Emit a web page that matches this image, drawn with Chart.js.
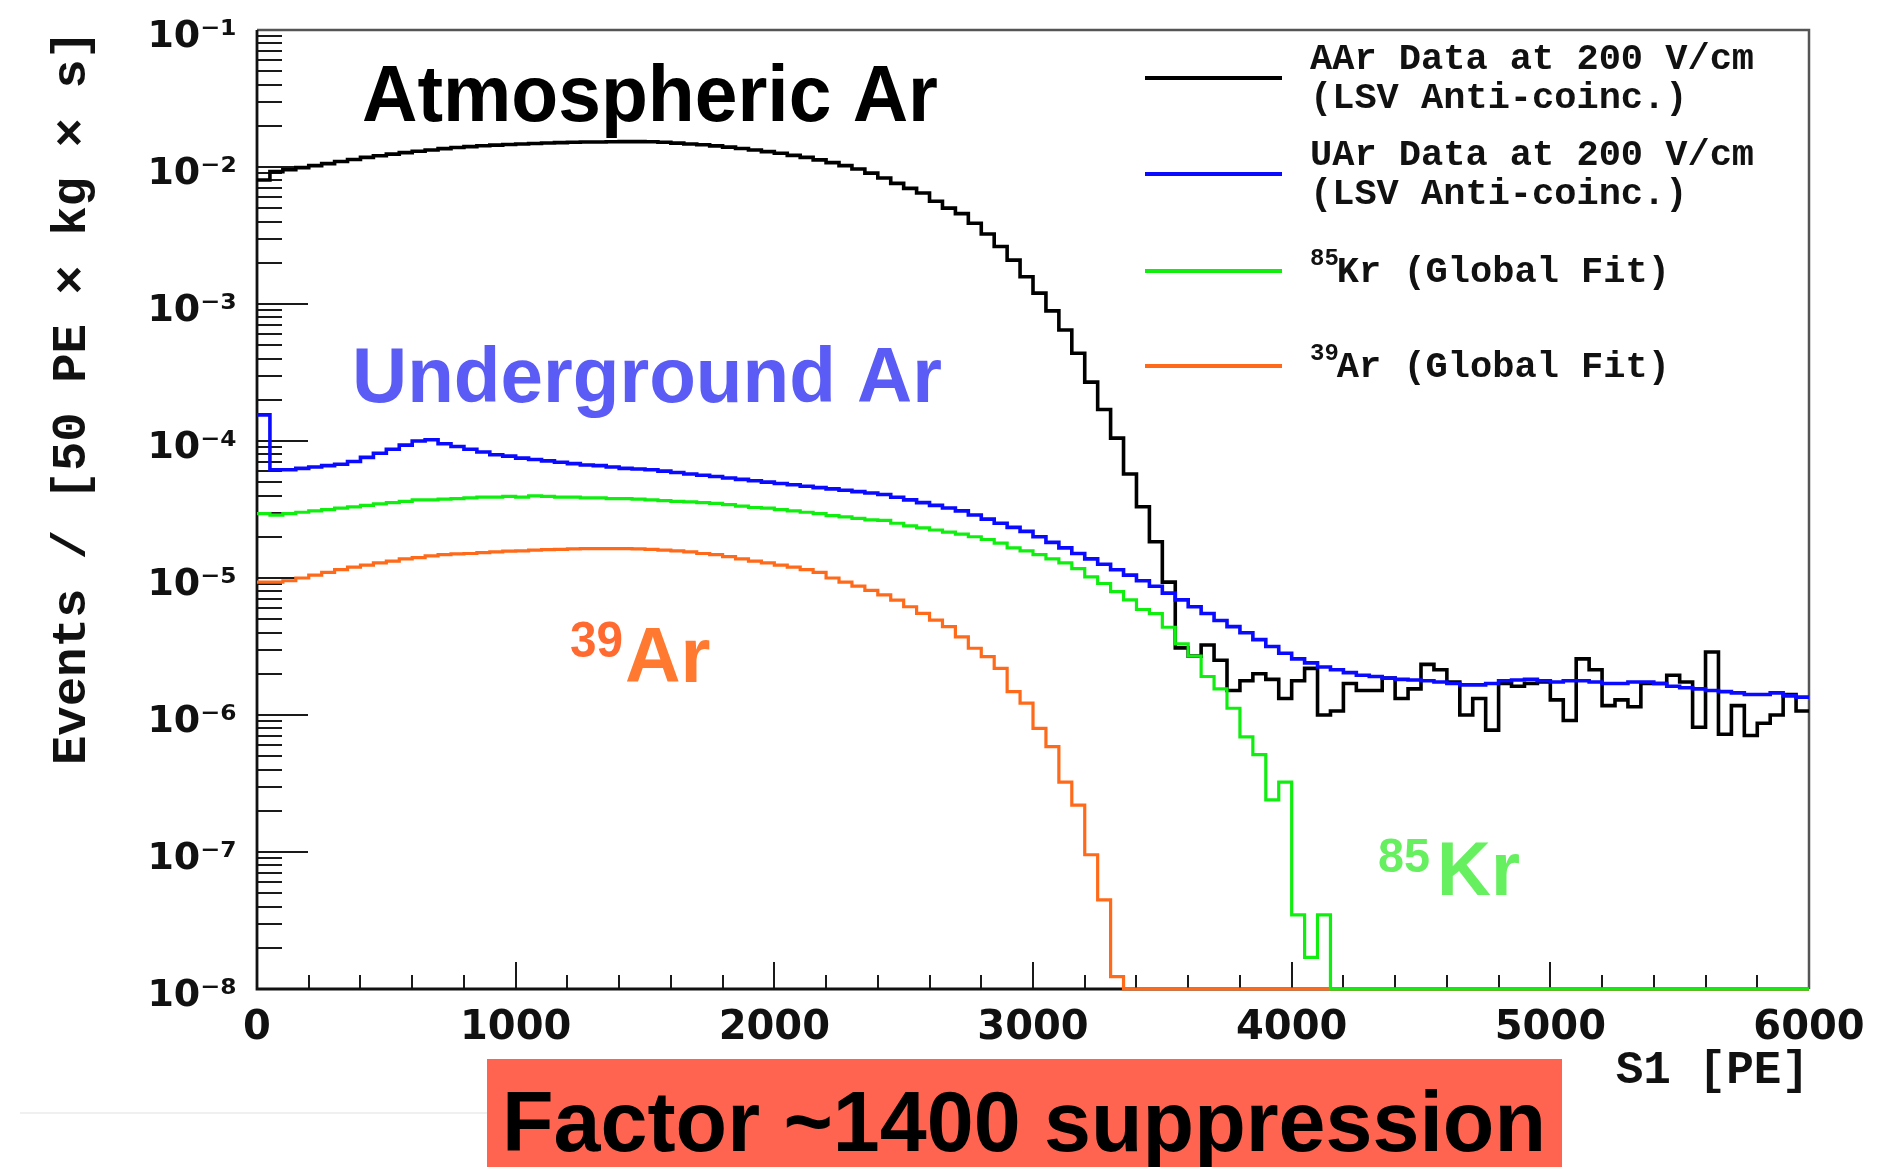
<!DOCTYPE html>
<html>
<head>
<meta charset="utf-8">
<script src="https://cdn.jsdelivr.net/npm/chart.js@4.4.1/dist/chart.umd.min.js"></script>
<style>
html,body{margin:0;padding:0;background:#fff;}
#wrap{width:1891px;height:1167px;position:relative;overflow:hidden;}
canvas{display:block;}
</style>
</head>
<body>
<div id="wrap"><canvas id="c" width="1891" height="1167"></canvas></div>
<script>
// ---------- DATA ----------
const binLowEdges = [0,50,100,150,200,250,300,350,400,450,500,550,600,650,700,750,800,850,900,950,
1000,1050,1100,1150,1200,1250,1300,1350,1400,1450,1500,1550,1600,1650,1700,1750,1800,1850,1900,1950,
2000,2050,2100,2150,2200,2250,2300,2350,2400,2450,2500,2550,2600,2650,2700,2750,2800,2850,2900,2950,
3000,3050,3100,3150,3200,3250,3300,3350,3400,3450,3500,3550,3600,3650,3700,3750,3800,3850,3900,3950,
4000,4050,4100,4150,4200,4250,4300,4350,4400,4450,4500,4550,4600,4650,4700,4750,4800,4850,4900,4950,
5000,5050,5100,5150,5200,5250,5300,5350,5400,5450,5500,5550,5600,5650,5700,5750,5800,5850,5900,5950];
const lastBinHighEdge = 6000;

// AAr data at 200 V/cm (LSV anti-coinc.)
const aarData = [8.04e-3,9.25e-3,9.55e-3,9.89e-3,1.023e-2,1.059e-2,1.096e-2,1.135e-2,1.175e-2,1.208e-2,
1.242e-2,1.274e-2,1.303e-2,1.330e-2,1.361e-2,1.387e-2,1.409e-2,1.429e-2,1.445e-2,1.459e-2,
1.472e-2,1.486e-2,1.496e-2,1.507e-2,1.514e-2,1.521e-2,1.524e-2,1.528e-2,1.531e-2,1.531e-2,
1.528e-2,1.514e-2,1.493e-2,1.472e-2,1.452e-2,1.426e-2,1.396e-2,1.365e-2,1.330e-2,1.294e-2,
1.259e-2,1.216e-2,1.175e-2,1.127e-2,1.076e-2,1.023e-2,9.66e-3,9.02e-3,8.32e-3,7.59e-3,
6.98e-3,6.46e-3,5.62e-3,5.01e-3,4.57e-3,3.89e-3,3.24e-3,2.63e-3,2.09e-3,1.58e-3,
1.20e-3,8.91e-4,6.46e-4,4.37e-4,2.69e-4,1.70e-4,1.05e-4,5.75e-5,3.31e-5,1.84e-5,
9.33e-6,3.09e-6,2.69e-6,3.24e-6,2.51e-6,1.51e-6,1.78e-6,2.00e-6,1.82e-6,1.32e-6,
1.78e-6,2.19e-6,1.00e-6,1.07e-6,1.70e-6,1.51e-6,1.51e-6,1.86e-6,1.32e-6,1.55e-6,
2.34e-6,2.14e-6,1.74e-6,1.00e-6,1.32e-6,7.76e-7,1.70e-6,1.62e-6,1.70e-6,1.74e-6,
1.29e-6,9.12e-7,2.57e-6,2.14e-6,1.17e-6,1.29e-6,1.15e-6,1.70e-6,1.70e-6,1.95e-6,
1.74e-6,8.13e-7,2.88e-6,7.24e-7,1.17e-6,7.08e-7,8.71e-7,1.00e-6,1.41e-6,1.07e-6];

// UAr data at 200 V/cm (LSV anti-coinc.)
const uarData = [1.55e-4,6.17e-5,6.17e-5,6.31e-5,6.46e-5,6.61e-5,6.76e-5,7.08e-5,7.59e-5,8.13e-5,
8.71e-5,9.33e-5,1.00e-4,1.02e-4,9.55e-5,9.12e-5,8.71e-5,8.32e-5,7.94e-5,7.76e-5,
7.50e-5,7.33e-5,7.16e-5,7.00e-5,6.84e-5,6.68e-5,6.61e-5,6.46e-5,6.31e-5,6.24e-5,
6.17e-5,6.03e-5,5.89e-5,5.75e-5,5.62e-5,5.50e-5,5.37e-5,5.25e-5,5.13e-5,5.01e-5,
4.90e-5,4.79e-5,4.68e-5,4.57e-5,4.47e-5,4.37e-5,4.27e-5,4.17e-5,4.07e-5,3.89e-5,
3.72e-5,3.55e-5,3.39e-5,3.24e-5,3.09e-5,2.88e-5,2.69e-5,2.51e-5,2.34e-5,2.19e-5,
2.00e-5,1.82e-5,1.66e-5,1.51e-5,1.38e-5,1.26e-5,1.15e-5,1.05e-5,9.55e-6,8.71e-6,
7.76e-6,6.92e-6,6.17e-6,5.50e-6,4.90e-6,4.42e-6,3.98e-6,3.55e-6,3.16e-6,2.82e-6,
2.57e-6,2.40e-6,2.24e-6,2.14e-6,2.04e-6,1.95e-6,1.91e-6,1.86e-6,1.82e-6,1.80e-6,
1.78e-6,1.74e-6,1.70e-6,1.66e-6,1.66e-6,1.70e-6,1.78e-6,1.80e-6,1.82e-6,1.78e-6,
1.74e-6,1.78e-6,1.78e-6,1.74e-6,1.70e-6,1.70e-6,1.74e-6,1.74e-6,1.70e-6,1.62e-6,
1.58e-6,1.55e-6,1.51e-6,1.48e-6,1.45e-6,1.41e-6,1.41e-6,1.45e-6,1.38e-6,1.35e-6];

// 85Kr (global fit); empty bins shown on the 1e-8 floor
const kr85Fit = [2.95e-5,2.88e-5,2.95e-5,3.02e-5,3.09e-5,3.16e-5,3.24e-5,3.31e-5,3.39e-5,3.47e-5,
3.55e-5,3.63e-5,3.72e-5,3.72e-5,3.76e-5,3.80e-5,3.85e-5,3.89e-5,3.89e-5,3.94e-5,
3.89e-5,3.98e-5,3.94e-5,3.89e-5,3.89e-5,3.85e-5,3.85e-5,3.80e-5,3.80e-5,3.76e-5,
3.72e-5,3.67e-5,3.63e-5,3.59e-5,3.55e-5,3.51e-5,3.43e-5,3.35e-5,3.27e-5,3.24e-5,
3.16e-5,3.09e-5,3.02e-5,2.95e-5,2.85e-5,2.79e-5,2.72e-5,2.66e-5,2.63e-5,2.51e-5,
2.40e-5,2.32e-5,2.24e-5,2.16e-5,2.09e-5,2.00e-5,1.91e-5,1.80e-5,1.66e-5,1.58e-5,
1.48e-5,1.38e-5,1.29e-5,1.17e-5,1.02e-5,9.12e-6,7.94e-6,6.92e-6,5.89e-6,5.50e-6,
4.37e-6,3.31e-6,2.69e-6,1.91e-6,1.55e-6,1.12e-6,6.92e-7,5.13e-7,2.40e-7,3.24e-7,
3.47e-8,1.70e-8,3.47e-8,1e-8,1e-8,1e-8,1e-8,1e-8,1e-8,1e-8,
1e-8,1e-8,1e-8,1e-8,1e-8,1e-8,1e-8,1e-8,1e-8,1e-8,
1e-8,1e-8,1e-8,1e-8,1e-8,1e-8,1e-8,1e-8,1e-8,1e-8,
1e-8,1e-8,1e-8,1e-8,1e-8,1e-8,1e-8,1e-8,1e-8,1e-8];

// 39Ar (global fit); empty bins shown on the 1e-8 floor
const ar39Fit = [9.33e-6,9.33e-6,9.55e-6,1.00e-5,1.05e-5,1.10e-5,1.15e-5,1.20e-5,1.24e-5,1.29e-5,
1.33e-5,1.38e-5,1.41e-5,1.45e-5,1.48e-5,1.50e-5,1.51e-5,1.53e-5,1.55e-5,1.57e-5,
1.58e-5,1.60e-5,1.61e-5,1.62e-5,1.63e-5,1.64e-5,1.64e-5,1.64e-5,1.64e-5,1.63e-5,
1.62e-5,1.60e-5,1.58e-5,1.55e-5,1.51e-5,1.48e-5,1.43e-5,1.38e-5,1.33e-5,1.29e-5,
1.24e-5,1.20e-5,1.15e-5,1.10e-5,1.00e-5,9.33e-6,8.71e-6,8.13e-6,7.52e-6,6.90e-6,
6.17e-6,5.52e-6,4.93e-6,4.42e-6,3.72e-6,3.07e-6,2.67e-6,2.19e-6,1.48e-6,1.22e-6,
8.00e-7,5.87e-7,3.24e-7,2.20e-7,9.55e-8,4.47e-8,1.23e-8,1e-8,1e-8,1e-8,
1e-8,1e-8,1e-8,1e-8,1e-8,1e-8,1e-8,1e-8,1e-8,1e-8,
1e-8,1e-8,1e-8,1e-8,1e-8,1e-8,1e-8,1e-8,1e-8,1e-8,
1e-8,1e-8,1e-8,1e-8,1e-8,1e-8,1e-8,1e-8,1e-8,1e-8,
1e-8,1e-8,1e-8,1e-8,1e-8,1e-8,1e-8,1e-8,1e-8,1e-8,
1e-8,1e-8,1e-8,1e-8,1e-8,1e-8,1e-8,1e-8,1e-8,1e-8];

const seriesLabels = ['AAr Data at 200 V/cm (LSV Anti-coinc.)','UAr Data at 200 V/cm (LSV Anti-coinc.)','85Kr (Global Fit)','39Ar (Global Fit)'];
const xTickValues = [0,1000,2000,3000,4000,5000,6000];
const xTickLabels = ['0','1000','2000','3000','4000','5000','6000'];
const yTickValues = [1e-8,1e-7,1e-6,1e-5,1e-4,1e-3,1e-2,1e-1];
const yTickLabels = ['10\u207B\u2078','10\u207B\u2077','10\u207B\u2076','10\u207B\u2075','10\u207B\u2074','10\u207B\u00B3','10\u207B\u00B2','10\u207B\u00B9'];
const xAxisTitle = 'S1 [PE]';
const yAxisTitle = 'Events / [50 PE \u00D7 kg \u00D7 s]';
const legendEntries = [
  {sup:'', lines:['AAr Data at 200 V/cm','(LSV Anti-coinc.)']},
  {sup:'', lines:['UAr Data at 200 V/cm','(LSV Anti-coinc.)']},
  {sup:'85', lines:['Kr (Global Fit)']},
  {sup:'39', lines:['Ar (Global Fit)']}
];
const bannerText = 'Factor ~1400 suppression';

// ---------- build step-histogram points ----------
function histPoints(vals){
  const pts = binLowEdges.map((e,i)=>({x:e, y:vals[i]}));
  pts.push({x:lastBinHighEdge, y:vals[vals.length-1]});
  return pts;
}

const MONO = '"Liberation Mono", "DejaVu Sans Mono", monospace';
const SANS = '"Liberation Sans", Arial, sans-serif';
const TICKF = '"DejaVu Sans", sans-serif';

const framePlugin = {
  id:'frame',
  beforeDatasetsDraw(chart){
    const {ctx, chartArea:a, scales:{x,y}} = chart;
    ctx.save();
    ctx.lineCap='butt';
    ctx.strokeStyle='#1a1a1a';
    ctx.lineWidth=2;
    // x ticks (inside)
    for(let v=0; v<=6000; v+=200){
      const px = Math.round(x.getPixelForValue(v));
      const len = (v%1000===0)?27:14;
      ctx.beginPath(); ctx.moveTo(px,a.bottom); ctx.lineTo(px,a.bottom-len); ctx.stroke();
    }
    // y ticks (inside)
    for(let e=-8;e<=-2;e++){
      for(let m=1;m<=9;m++){
        const v=m*Math.pow(10,e);
        const py=Math.round(y.getPixelForValue(v));
        const len=(m===1)?51:25;
        ctx.beginPath(); ctx.moveTo(a.left,py); ctx.lineTo(a.left+len,py); ctx.stroke();
      }
    }
    // frame
    ctx.strokeStyle='#555'; ctx.lineWidth=2.5;
    ctx.beginPath(); ctx.moveTo(a.left,a.top); ctx.lineTo(a.right,a.top); ctx.lineTo(a.right,a.bottom); ctx.stroke();
    ctx.strokeStyle='#111'; ctx.lineWidth=2.8;
    ctx.beginPath(); ctx.moveTo(a.left,a.top); ctx.lineTo(a.left,a.bottom); ctx.lineTo(a.right,a.bottom); ctx.stroke();
    ctx.restore();
  },
  afterDraw(chart){
    const {ctx, chartArea:a} = chart;
    ctx.save();
    // legend
    const sampleX0 = a.right-664, sampleX1 = a.right-527, textX = a.right-499;
    const centers = [a.top+48, a.top+144, a.top+241, a.top+336];
    ctx.textBaseline='middle';
    legendEntries.forEach((ent,i)=>{
      const ds = chart.data.datasets[i];
      const cy = centers[i];
      ctx.strokeStyle = ds.borderColor; ctx.lineWidth=4;
      ctx.beginPath(); ctx.moveTo(sampleX0,cy); ctx.lineTo(sampleX1,cy); ctx.stroke();
      ctx.fillStyle='#111';
      if(ent.lines.length===2){
        ctx.font='bold 37px '+MONO;
        ctx.fillText(ent.lines[0], textX, cy-18);
        ctx.fillText(ent.lines[1], textX, cy+21);
      } else {
        ctx.font='bold 24px '+MONO;
        ctx.fillText(ent.sup, textX, cy-12);
        const w = ctx.measureText(ent.sup).width;
        ctx.font='bold 37px '+MONO;
        ctx.fillText(ent.lines[0], textX+w-2, cy+2);
      }
    });
    // annotations
    ctx.textBaseline='alphabetic';
    ctx.fillStyle='#000';
    ctx.font='bold 80px '+SANS;
    ctx.fillText('Atmospheric Ar', 362, 121, 576);
    ctx.fillStyle='#5b5cf6';
    ctx.font='bold 77px '+SANS;
    ctx.fillText('Underground Ar', 352, 402, 590);
    ctx.fillStyle='#ff6a30';
    ctx.font='bold 50px '+SANS;
    ctx.fillText('39', 570, 657, 53);
    ctx.fillStyle='#ff7a30';
    ctx.font='bold 77px '+SANS;
    ctx.fillText('Ar', 625, 682, 87);
    ctx.fillStyle='#66f060';
    ctx.font='bold 49px '+SANS;
    ctx.fillText('85', 1378, 872, 52);
    ctx.font='bold 76px '+SANS;
    ctx.fillText('Kr', 1437, 895, 83);
    // faint separator line and banner
    ctx.strokeStyle='#f0f0f0'; ctx.lineWidth=2;
    ctx.beginPath(); ctx.moveTo(20,1113); ctx.lineTo(487,1113); ctx.stroke();
    ctx.fillStyle='#ff6450';
    ctx.fillRect(487,1059,1075,108);
    ctx.fillStyle='#000';
    ctx.font='bold 85px '+SANS;
    ctx.fillText(bannerText, 502, 1151, 1044);
    ctx.restore();
  }
};

const ctx = document.getElementById('c').getContext('2d');
new Chart(ctx, {
  type:'line',
  data:{
    datasets:[
      {label:seriesLabels[0], data:histPoints(aarData), borderColor:'#000000', borderWidth:3.6, stepped:'before', pointRadius:0, fill:false, clip:false, order:4},
      {label:seriesLabels[1], data:histPoints(uarData), borderColor:'#0a0aff', borderWidth:3.6, stepped:'before', pointRadius:0, fill:false, clip:false, order:3},
      {label:seriesLabels[2], data:histPoints(kr85Fit), borderColor:'#10ee10', borderWidth:3.2, stepped:'before', pointRadius:0, fill:false, clip:false, order:1},
      {label:seriesLabels[3], data:histPoints(ar39Fit), borderColor:'#ff6a1a', borderWidth:3.2, stepped:'before', pointRadius:0, fill:false, clip:false, order:2}
    ]
  },
  options:{
    responsive:false, animation:false, devicePixelRatio:1,
    layout:{padding:{top:30,right:82,left:0,bottom:0}},
    plugins:{legend:{display:false}, tooltip:{enabled:false}},
    elements:{line:{borderJoinStyle:'miter', tension:0}},
    scales:{
      x:{
        type:'linear', min:0, max:6000,
        afterBuildTicks:s=>{ s.ticks = xTickValues.map(v=>({value:v})); },
        afterFit:s=>{ s.height = 178; s.paddingLeft = 0; s.paddingRight = 0; },
        grid:{display:false, drawTicks:false}, border:{display:false},
        ticks:{callback:(v,i)=>xTickLabels[i], autoSkip:false, maxRotation:0, padding:16, color:'#111',
               font:{family:TICKF, weight:'bold', size:40}},
        title:{display:true, text:xAxisTitle, align:'end', color:'#111',
               font:{family:MONO, weight:'bold', size:46}, padding:{top:0,bottom:68}}
      },
      y:{
        type:'logarithmic', min:1e-8, max:1e-1,
        afterBuildTicks:s=>{ s.ticks = yTickValues.map(v=>({value:v})); },
        afterFit:s=>{ s.width = 257; s.paddingTop = 0; s.paddingBottom = 0; },
        grid:{display:false, drawTicks:false}, border:{display:false},
        ticks:{callback:(v,i)=>yTickLabels[i], autoSkip:false, padding:20, labelOffset:7, color:'#111',
               font:{family:TICKF, weight:'bold', size:38}},
        title:{display:true, text:yAxisTitle, align:'end', color:'#111',
               font:{family:MONO, weight:'bold', size:49}, padding:{top:43,bottom:0}}
      }
    }
  },
  plugins:[framePlugin]
});
</script>
</body>
</html>
